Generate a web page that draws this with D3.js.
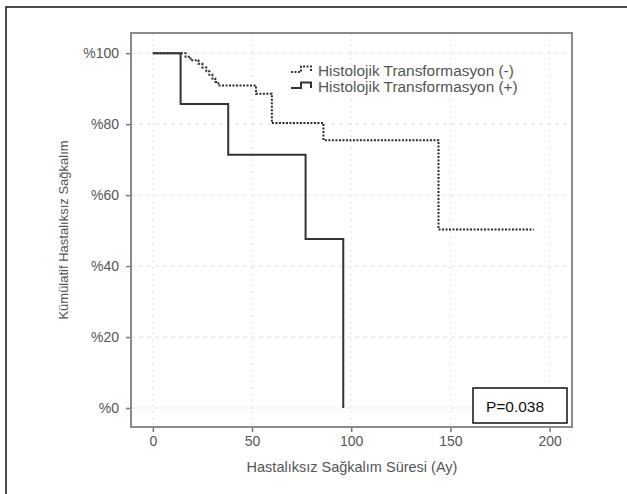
<!DOCTYPE html>
<html>
<head>
  <meta charset="utf-8">
  <style>
    body { margin: 0; background: #fff; }
    text { font-family: "Liberation Sans", Arial, sans-serif; }
  </style>
  <title>Kaplan-Meier</title>
</head>
<body>
  <script src="https://cdn.jsdelivr.net/npm/d3@7"></script>
  <script>
    // data (time in months, survival as fraction)
    const negTimes = [0, 16.5, 19, 23, 25, 27, 28.5, 30, 31.5, 33, 52, 60, 86, 144];
    const negSurv  = [1, 0.990, 0.980, 0.970, 0.960, 0.949, 0.939, 0.929, 0.919, 0.909, 0.886, 0.803, 0.755, 0.503];
    const negEnd = 192;

    const posTimes = [0, 14, 38, 77, 96];
    const posSurv  = [1, 0.857, 0.714, 0.476, 0];
    const posEnd = 96;

    const xTicks = [0, 50, 100, 150, 200];
    const yTicks = [0, 0.2, 0.4, 0.6, 0.8, 1];
    const legendLabels = ["Histolojik Transformasyon (-)", "Histolojik Transformasyon (+)"];
    const pText = "P=0.038";

    // dimensions of the plot frame
    const margin = {top: 33, right: 55, bottom: 67, left: 131};
    const width = 627 - margin.left - margin.right;
    const height = 494 - margin.top - margin.bottom;

    const x = d3.scaleLinear().domain([-11, 211.3]).range([0, width]);
    const y = d3.scaleLinear().domain([-0.0536, 1.057]).range([height, 0]);

    const svg = d3.select("body").append("svg")
      .attr("width", 627)
      .attr("height", 494);

    // outer border of the figure
    svg.append("rect")
      .attr("x", 6).attr("y", 7)
      .attr("width", 700).attr("height", 600)
      .attr("fill", "none").attr("stroke", "#111").attr("stroke-width", 1.5);

    const g = svg.append("g")
      .attr("transform", "translate(" + margin.left + "," + margin.top + ")");

    // grid lines
    g.selectAll(".hgrid").data(yTicks).enter().append("line")
      .attr("x1", 0).attr("x2", width)
      .attr("y1", d => y(d)).attr("y2", d => y(d))
      .attr("stroke", "#e0e0e0").attr("stroke-width", 1)
      .attr("stroke-dasharray", "4,4");
    g.selectAll(".vgrid").data(xTicks).enter().append("line")
      .attr("y1", 0).attr("y2", height)
      .attr("x1", d => x(d)).attr("x2", d => x(d))
      .attr("stroke", "#e0e0e0").attr("stroke-width", 1)
      .attr("stroke-dasharray", "2,4");

    // x axis
    const xAxis = g.append("g")
      .attr("transform", "translate(0," + height + ")")
      .call(d3.axisBottom(x).tickValues(xTicks).tickSize(5).tickPadding(4).tickSizeOuter(0));
    xAxis.select(".domain").remove();
    xAxis.selectAll("line").attr("stroke", "#777").attr("stroke-width", 1.5);
    xAxis.selectAll("text").attr("fill", "#555").style("font-size", "14px");

    // y axis
    const yAxis = g.append("g")
      .call(d3.axisLeft(y).tickValues(yTicks).tickSize(5).tickPadding(7)
        .tickFormat(d => "%" + Math.round(d * 100)));
    yAxis.select(".domain").remove();
    yAxis.selectAll("line").attr("stroke", "#777").attr("stroke-width", 1.5);
    yAxis.selectAll("text").attr("fill", "#555").style("font-size", "14px");

    // frame
    g.append("rect")
      .attr("width", width).attr("height", height)
      .attr("fill", "none").attr("stroke", "#8a8a8a").attr("stroke-width", 2);

    // survival curves
    const line = d3.line()
      .x(d => x(d[0])).y(d => y(d[1]))
      .curve(d3.curveStepAfter);

    const negPts = negTimes.map((t, i) => [t, negSurv[i]]);
    negPts.push([negEnd, negSurv[negSurv.length - 1]]);
    const posPts = posTimes.map((t, i) => [t, posSurv[i]]);
    posPts.push([posEnd, posSurv[posSurv.length - 1]]);

    g.append("path").datum(negPts)
      .attr("d", line)
      .attr("fill", "none").attr("stroke", "#2a2a2a").attr("stroke-width", 2)
      .attr("stroke-dasharray", "2,1.5");

    g.append("path").datum(posPts)
      .attr("d", line)
      .attr("fill", "none").attr("stroke", "#333").attr("stroke-width", 2);

    // legend
    const legend = svg.append("g");
    const legRows = [{label: legendLabels[0], dash: "2,1.5", y: 72},
                     {label: legendLabels[1], dash: null, y: 88}];
    legRows.forEach(r => {
      legend.append("path")
        .attr("d", "M291," + r.y + "H301V" + (r.y - 5.5) + "H311V" + r.y)
        .attr("fill", "none").attr("stroke", "#333").attr("stroke-width", 2)
        .attr("stroke-dasharray", r.dash);
      legend.append("text")
        .attr("x", 318).attr("y", r.y + 3.5)
        .attr("fill", "#555").style("font-size", "15.4px")
        .text(r.label);
    });

    // axis titles
    svg.append("text")
      .attr("x", 352).attr("y", 472)
      .attr("text-anchor", "middle")
      .attr("fill", "#555").style("font-size", "14.5px")
      .text("Hastalıksız Sağkalım Süresi (Ay)");

    svg.append("text")
      .attr("transform", "translate(68,230) rotate(-90)")
      .attr("text-anchor", "middle")
      .attr("fill", "#555").style("font-size", "13px")
      .text("Kümülatif Hastalıksız Sağkalım");

    // p value box
    svg.append("rect")
      .attr("x", 473).attr("y", 388)
      .attr("width", 94).attr("height", 35)
      .attr("fill", "#fff").attr("stroke", "#111").attr("stroke-width", 1.5);
    svg.append("text")
      .attr("x", 515).attr("y", 411.5)
      .attr("text-anchor", "middle")
      .attr("fill", "#111").style("font-size", "15.5px")
      .text(pText);
  </script>
</body>
</html>
